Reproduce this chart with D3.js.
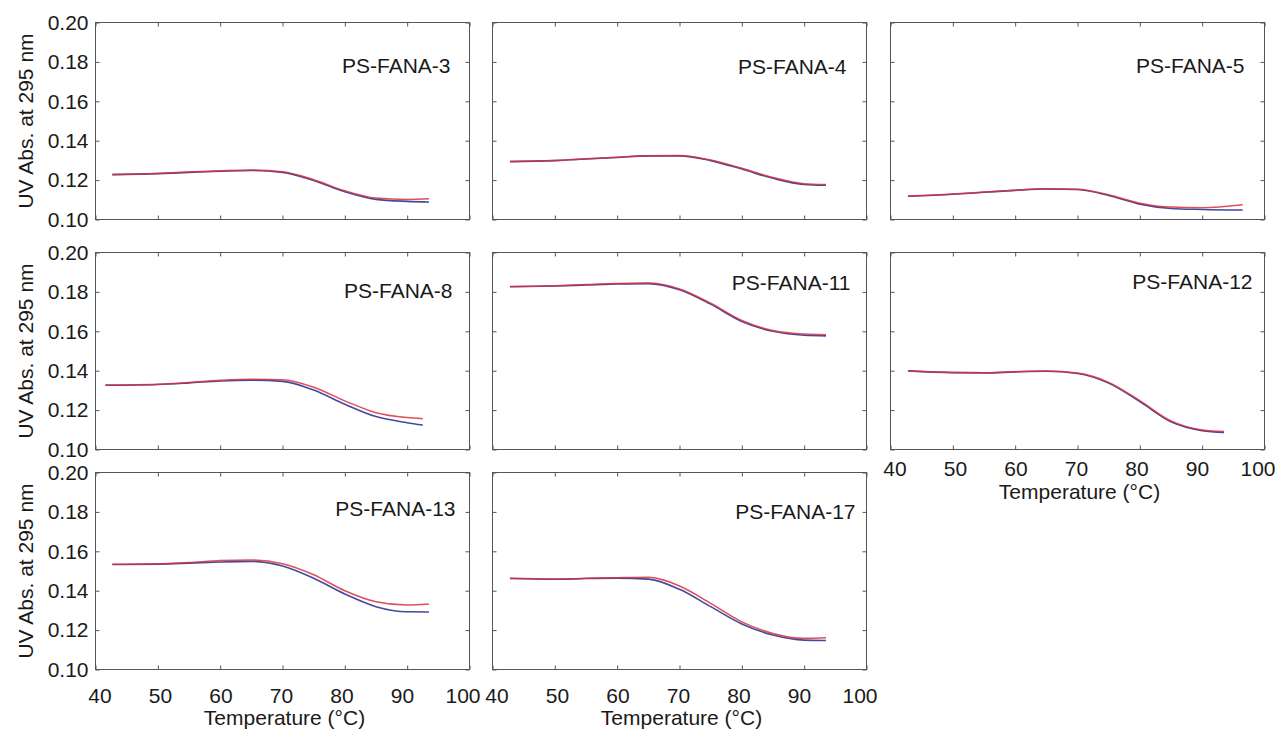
<!DOCTYPE html>
<html>
<head>
<meta charset="utf-8">
<script src="https://cdn.jsdelivr.net/npm/d3@7"></script>
<style>
  html, body { margin: 0; padding: 0; background: #fff; }
  svg { display: block; font-family: "Liberation Sans", Arial, sans-serif; }
</style>
</head>
<body>
<svg id="chart" width="1276" height="734"></svg>
<script>
// panel names, in reading order
const panelNames = ["PS-FANA-3", "PS-FANA-4", "PS-FANA-5", "PS-FANA-8",
                    "PS-FANA-11", "PS-FANA-12", "PS-FANA-13", "PS-FANA-17"];

// temperatures (°C): first point, shared middle grid, last point
const tempStart = [42.7, 42.8, 42.8, 41.6, 42.8, 42.8, 42.7, 42.8];
const tempGrid = [50, 55, 60, 65, 70, 75, 80, 85, 90];
const tempEnd = [93.5, 93.5, 96.5, 92.5, 93.5, 93.5, 93.5, 93.5];

// UV absorbance, red trace (start, 50..90, end)
const redFana3  = [0.1229, 0.1234, 0.1241, 0.1247, 0.1251, 0.1242, 0.1202, 0.1146, 0.1109, 0.1102, 0.1105];
const redFana4  = [0.1295, 0.1300, 0.1308, 0.1316, 0.1324, 0.1325, 0.1302, 0.1260, 0.1213, 0.1182, 0.1178];
const redFana5  = [0.1119, 0.1129, 0.1139, 0.1149, 0.1156, 0.1154, 0.1126, 0.1083, 0.1063, 0.1060, 0.1075];
const redFana8  = [0.1327, 0.1331, 0.1340, 0.1351, 0.1357, 0.1354, 0.1316, 0.1247, 0.1187, 0.1162, 0.1156];
const redFana11 = [0.1827, 0.1831, 0.1837, 0.1843, 0.1845, 0.1815, 0.1743, 0.1655, 0.1604, 0.1586, 0.1583];
const redFana12 = [0.1400, 0.1391, 0.1390, 0.1395, 0.1398, 0.1388, 0.1341, 0.1248, 0.1145, 0.1099, 0.1091];
const redFana13 = [0.1534, 0.1536, 0.1543, 0.1553, 0.1556, 0.1537, 0.1481, 0.1400, 0.1344, 0.1327, 0.1332];
const redFana17 = [0.1463, 0.1459, 0.1463, 0.1466, 0.1468, 0.1424, 0.1336, 0.1242, 0.1183, 0.1158, 0.1161];

// UV absorbance, blue trace
const blueFana3  = [0.1228, 0.1233, 0.1239, 0.1245, 0.1249, 0.1239, 0.1198, 0.1141, 0.1102, 0.1092, 0.1089];
const blueFana4  = [0.1294, 0.1299, 0.1307, 0.1315, 0.1323, 0.1323, 0.1299, 0.1256, 0.1209, 0.1178, 0.1174];
const blueFana5  = [0.1118, 0.1128, 0.1138, 0.1148, 0.1155, 0.1152, 0.1122, 0.1078, 0.1056, 0.1051, 0.1048];
const blueFana8  = [0.1326, 0.1330, 0.1338, 0.1348, 0.1352, 0.1346, 0.1302, 0.1230, 0.1167, 0.1136, 0.1124];
const blueFana11 = [0.1826, 0.1830, 0.1835, 0.1840, 0.1842, 0.1811, 0.1738, 0.1650, 0.1600, 0.1580, 0.1577];
const blueFana12 = [0.1399, 0.1390, 0.1389, 0.1394, 0.1397, 0.1386, 0.1337, 0.1243, 0.1141, 0.1096, 0.1087];
const blueFana13 = [0.1533, 0.1535, 0.1540, 0.1546, 0.1549, 0.1525, 0.1463, 0.1383, 0.1319, 0.1293, 0.1292];
const blueFana17 = [0.1462, 0.1458, 0.1462, 0.1464, 0.1459, 0.1407, 0.1319, 0.1231, 0.1175, 0.1149, 0.1147];

const redSeries = [redFana3, redFana4, redFana5, redFana8, redFana11, redFana12, redFana13, redFana17];
const blueSeries = [blueFana3, blueFana4, blueFana5, blueFana8, blueFana11, blueFana12, blueFana13, blueFana17];

// tick labels
const xTicks = [40, 50, 60, 70, 80, 90, 100];
const yTicks = [0.10, 0.12, 0.14, 0.16, 0.18, 0.20];

const xTitle = "Temperature (°C)";
const yTitle = "UV Abs. at 295 nm";

// layout
const colX = [95.5, 492.5, 890.5];
const rowY = [22.5, 252.5, 472.5];
const pw = 374, ph = 197;
const fontSize = 21;
const textColor = "#1a1a1a";
const frameColor = "#555";
const redColor = "#d8303e", blueColor = "#2e3690";

// title offset from the panel's top-right corner [dx, dy]
const titlePos = [[19, 50], [20, 51], [20, 50], [17, 45], [16, 37], [12, 36], [14, 43], [11, 46]];
// panels with x tick labels: index -> [tick padding, title baseline]
const xLabelled = { 5: [12, 49], 6: [19, 55], 7: [19, 55] };

const svg = d3.select("#chart");

panelNames.forEach((name, i) => {
    const col = i % 3, row = Math.floor(i / 3);
    const g = svg.append("g").attr("transform", `translate(${colX[col]},${rowY[row]})`);

    const x = d3.scaleLinear().domain([40, 100]).range([0, pw]);
    const y = d3.scaleLinear().domain([0.10, 0.20]).range([ph, 0]);

    // inward ticks on all four sides
    const lab = xLabelled[i];
    const bottom = g.append("g").attr("transform", `translate(0,${ph})`)
        .call(d3.axisBottom(x).tickValues(xTicks).tickSize(-4)
            .tickPadding(lab ? lab[0] : 0).tickFormat(lab ? d3.format("d") : ""));
    // labels sit a little squeezed toward the middle, as in the original
    bottom.selectAll(".tick text").attr("dx", d => 4 - (d - 40) / 60 * 11);
    g.append("g")
        .call(d3.axisTop(x).tickValues(xTicks).tickSize(-4).tickFormat(""));
    g.append("g")
        .call(d3.axisLeft(y).tickValues(yTicks).tickSize(-4).tickPadding(7)
            .tickFormat(col === 0 ? d3.format(".2f") : ""));
    g.append("g").attr("transform", `translate(${pw},0)`)
        .call(d3.axisRight(y).tickValues(yTicks).tickSize(-4).tickFormat(""));

    g.selectAll(".domain").remove();
    g.selectAll(".tick line").attr("stroke", frameColor);
    g.selectAll(".tick text").attr("fill", textColor).attr("font-size", fontSize)
        .attr("font-family", "Liberation Sans, Arial, sans-serif");

    // frame
    g.append("rect").attr("width", pw).attr("height", ph)
        .attr("fill", "none").attr("stroke", frameColor).attr("stroke-width", 1);

    // traces
    const temps = [tempStart[i], ...tempGrid, tempEnd[i]];
    const line = d3.line()
        .x((d, k) => x(temps[k]))
        .y(d => y(d))
        .curve(d3.curveMonotoneX);

    g.append("path").datum(blueSeries[i])
        .attr("d", line).attr("fill", "none")
        .attr("stroke", blueColor).attr("stroke-width", 1.6).attr("stroke-opacity", 0.9);
    g.append("path").datum(redSeries[i])
        .attr("d", line).attr("fill", "none")
        .attr("stroke", redColor).attr("stroke-width", 1.5).attr("stroke-opacity", 0.85);

    // panel name
    g.append("text")
        .attr("x", pw - titlePos[i][0]).attr("y", titlePos[i][1])
        .attr("text-anchor", "end").attr("font-size", fontSize).attr("fill", textColor)
        .text(name);

    // axis titles
    if (col === 0) {
        g.append("text")
            .attr("transform", `translate(${33 - colX[0]},${ph / 2}) rotate(-90)`)
            .attr("text-anchor", "middle").attr("font-size", fontSize).attr("fill", textColor)
            .text(yTitle);
    }
    if (lab) {
        g.append("text")
            .attr("x", pw / 2 + 2).attr("y", ph + lab[1])
            .attr("text-anchor", "middle").attr("font-size", fontSize).attr("fill", textColor)
            .text(xTitle);
    }
});
</script>
</body>
</html>
